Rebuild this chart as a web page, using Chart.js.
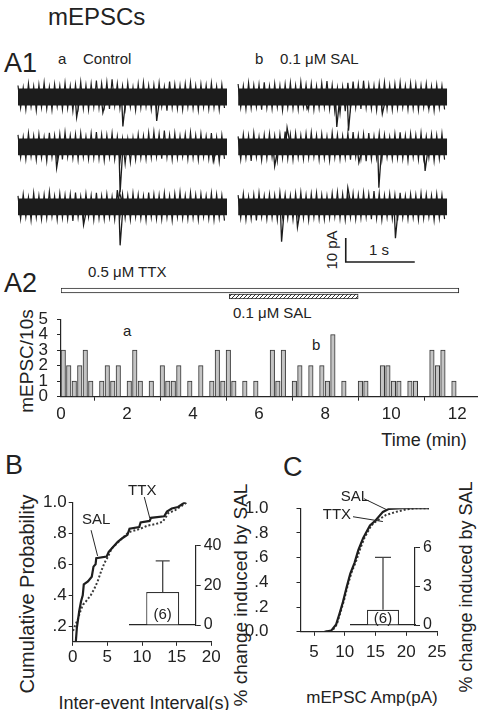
<!DOCTYPE html>
<html>
<head>
<meta charset="utf-8">
<script src="https://cdn.jsdelivr.net/npm/chart.js@4.4.0/dist/chart.umd.min.js"></script>
<style>
  body { margin: 0; background: #fff; width: 481px; height: 710px; position: relative; overflow: hidden;
         font-family: 'Liberation Sans', Arial, sans-serif; color: #222; }
  canvas { position: absolute; }
  .t { position: absolute; white-space: nowrap; line-height: 1; }
  .l { transform: translateY(-50%); }
  .c { transform: translate(-50%, -50%); }
  .r { transform: translate(-50%, -50%) rotate(-90deg); }
</style>
</head>
<body>
<div class="t l" style="left:48px;top:17px;font-size:24px">mEPSCs</div>
<div class="t l" style="left:4px;top:63px;font-size:27px">A1</div>
<div class="t l" style="left:58px;top:58px;font-size:15px">a</div>
<div class="t l" style="left:83px;top:58px;font-size:15px">Control</div>
<div class="t l" style="left:255px;top:58px;font-size:15px">b</div>
<div class="t l" style="left:280px;top:58px;font-size:15px">0.1 &mu;M SAL</div>
<div class="t r" style="left:331px;top:250px;font-size:15px">10 pA</div>
<div class="t l" style="left:369px;top:249px;font-size:15px">1 s</div>

<div class="t l" style="left:4px;top:283px;font-size:27px">A2</div>
<div class="t l" style="left:88px;top:271px;font-size:15px">0.5 &mu;M TTX</div>
<div class="t l" style="left:233px;top:312px;font-size:15px">0.1 &mu;M SAL</div>
<div class="t l" style="left:123px;top:330px;font-size:15px">a</div>
<div class="t l" style="left:312px;top:344px;font-size:15px">b</div>
<div class="t r" style="left:26px;top:361px;font-size:19px">mEPSC/10s</div>
<div class="t c" style="left:424px;top:440px;font-size:18px">Time (min)</div>

<div class="t l" style="left:5px;top:465px;font-size:27px">B</div>
<div class="t l" style="left:283px;top:467px;font-size:27px">C</div>
<div class="t r" style="left:27px;top:594px;font-size:20px">Cumulative Probability</div>
<div class="t c" style="left:144px;top:703px;font-size:18px">Inter-event Interval(s)</div>
<div class="t c" style="left:372px;top:697px;font-size:17px">mEPSC Amp(pA)</div>
<div class="t r" style="left:240px;top:595px;font-size:19px">% change induced by SAL</div>
<div class="t r" style="left:466px;top:587px;font-size:18px">% change induced by SAL</div>

<canvas id="a1" width="481" height="200" style="left:0;top:70px;width:481px;height:200px"></canvas>
<canvas id="drug" width="481" height="22" style="left:0;top:282px;width:481px;height:22px"></canvas>
<canvas id="a2" width="481" height="130" style="left:0;top:300px;width:481px;height:130px"></canvas>
<canvas id="cb" width="240" height="200" style="left:0;top:470px;width:240px;height:200px"></canvas>
<canvas id="cc" width="241" height="200" style="left:240px;top:470px;width:241px;height:200px"></canvas>
<canvas id="ib" width="105" height="105" style="left:120px;top:533px;width:105px;height:105px"></canvas>
<canvas id="ic" width="100" height="103" style="left:341px;top:535px;width:100px;height:103px"></canvas>

<script>
// ---------- A1 traces (pA around each row baseline), ~3 s each ----------
const traceDur = 3.03;
const r1L_hi = [4.8,3.9,5.6,4.4,5.1,6.0,4.2,5.3,4.7,5.9,4.5,5.2,6.3,4.9,5.5,6.8,5.7,6.2,7.4,5.6,4.6,5.8,4.1,5.4,6.1,4.8,5.0,5.9,4.3,6.4,5.2,4.7,5.5,6.0,4.6,5.3,4.9,5.8,4.4,5.2];
const r1L_lo = [-4.5,-5.2,-4.0,-5.6,-4.3,-4.9,-5.4,-3.9,-5.1,-4.6,-5.8,-4.2,-4.8,-5.3,-4.1,-4.4,-3.8,-5.0,-3.6,-4.7,-4.9,-4.2,-5.5,-4.4,-3.9,-5.1,-4.6,-4.0,-5.7,-4.3,-4.8,-5.2,-4.1,-4.7,-5.4,-4.2,-4.9,-4.4,-5.3,-4.6];
const r2L_hi = [5.0,4.2,5.7,4.6,5.3,4.1,5.9,4.8,5.4,6.1,4.7,5.2,5.8,4.4,5.6,6.2,5.1,4.9,5.7,4.3,3.5,3.4,3.9,5.2,4.6,5.9,6.3,5.5,6.8,5.0,5.7,4.6,5.3,6.0,4.8,5.4,4.5,5.8,4.1,4.9];
const r2L_lo = [-4.4,-5.1,-4.0,-5.4,-4.6,-5.9,-4.3,-4.9,-5.2,-4.1,-4.7,-5.3,-4.2,-5.0,-4.5,-4.8,-5.6,-4.3,-5.1,-6.2,-7.0,-6.4,-5.3,-4.6,-5.0,-4.4,-4.1,-4.9,-4.3,-5.2,-4.6,-4.0,-5.0,-4.5,-5.3,-4.2,-4.8,-5.4,-6.1,-5.0];
const r3L_hi = [4.6,5.3,4.1,5.8,4.7,5.1,6.4,4.5,5.6,4.9,5.2,6.0,4.4,5.5,4.8,5.9,4.6,5.3,4.2,7.0,5.4,4.8,5.7,5.1,4.5,6.0,5.2,4.9,5.8,4.6,5.5,6.2,4.7,5.9,5.0,5.4,4.6,5.7,5.1,4.8];
const r3L_lo = [-4.9,-4.2,-5.5,-4.4,-5.1,-4.6,-4.0,-5.3,-4.5,-5.0,-5.8,-4.3,-4.9,-4.1,-5.4,-4.7,-5.0,-4.4,-5.2,-4.0,-4.6,-5.3,-4.2,-4.8,-5.5,-4.3,-4.9,-5.1,-4.4,-5.6,-4.2,-4.7,-5.0,-4.5,-5.3,-4.1,-4.8,-5.4,-4.6,-5.7];
const r1R_hi = [5.4,4.6,5.9,4.9,5.2,6.1,4.5,5.6,4.8,5.3,5.9,4.7,6.3,5.1,5.5,4.6,5.8,6.6,5.0,3.8,4.2,5.9,6.4,5.3,6.8,5.1,4.7,5.6,6.1,4.9,5.4,6.0,4.6,5.7,5.2,4.8,5.5,4.4,5.1,4.7];
const r1R_lo = [-4.3,-5.0,-4.6,-4.1,-5.3,-4.5,-4.9,-4.2,-5.6,-4.4,-4.8,-5.1,-4.0,-4.7,-5.2,-4.5,-4.1,-4.9,-6.0,-6.8,-5.9,-4.6,-4.3,-5.0,-4.4,-4.8,-5.5,-4.2,-4.9,-5.3,-4.6,-4.3,-5.1,-4.7,-5.4,-4.2,-4.9,-5.6,-4.5,-5.2];
const r2R_hi = [4.4,5.2,4.7,5.8,4.2,5.0,5.6,4.6,5.3,6.4,5.1,5.7,4.8,5.5,6.0,4.9,5.4,4.3,5.9,5.1,4.6,5.7,6.2,4.9,5.3,5.8,4.5,5.6,5.0,4.2,5.4,6.1,4.7,5.5,4.9,5.8,4.4,5.2,4.8,5.5];
const r2R_lo = [-5.2,-4.6,-5.8,-4.3,-5.5,-4.8,-4.2,-5.7,-4.6,-4.9,-5.3,-4.4,-5.0,-4.5,-4.1,-5.2,-4.7,-5.6,-4.3,-5.0,-4.6,-5.3,-4.1,-4.8,-5.9,-5.1,-4.7,-5.4,-4.2,-5.0,-4.6,-4.9,-5.7,-4.3,-5.2,-4.8,-4.5,-5.8,-4.9,-5.3];
const r3R_hi = [4.9,5.5,4.3,5.1,5.8,4.6,5.3,4.8,6.0,5.2,4.7,5.6,6.1,4.9,5.4,5.8,5.0,4.6,5.7,6.2,5.3,4.9,5.6,5.1,6.0,5.4,6.6,5.7,4.8,5.5,5.0,5.9,4.6,5.3,4.9,5.6,5.2,4.7,5.4,5.0];
const r3R_lo = [-4.6,-5.3,-4.9,-5.6,-4.2,-5.0,-4.5,-5.4,-4.1,-4.8,-5.2,-4.4,-4.7,-5.5,-4.3,-4.9,-5.1,-4.6,-4.0,-4.8,-5.3,-4.4,-5.0,-4.6,-4.2,-5.1,-4.7,-5.4,-4.3,-4.9,-5.6,-4.5,-5.0,-4.4,-5.3,-4.8,-4.2,-5.5,-4.7,-5.1];
// events: [time (s), peak (pA)]
const r1L_spk = [[0.85,-8.5],[1.23,-6.5],[1.52,-12.3],[2.01,-10]];
const r2L_spk = [[0.56,-8.8],[1.48,-19],[2.83,-6]];
const r3L_spk = [[0.95,-7.5],[1.47,6],[1.48,-16]];
const r1R_spk = [[1.0,-5],[1.43,-12.5],[1.6,-14],[2.09,-7],[2.76,-4.5]];
const r2R_spk = [[0.53,-8],[0.71,8],[1.75,-6.5],[2.04,-17],[2.71,-10]];
const r3R_spk = [[0.63,-14.5],[0.86,-8.5],[1.59,8],[2.28,-13]];

// ---------- A2 histogram: events per 10 s bin, 0-12 min ----------
const binMin = 1 / 6;
const eventCounts = [3,2,1,2,3,1,0,1,2,1,2,0,1,3,1,0,1,0,2,1,1,2,0,1,0,2,0,1,3,1,3,1,0,1,0,1,0,0,3,1,
                     3,0,1,2,0,2,0,2,1,4,0,1,0,0,1,1,0,0,2,2,1,1,0,1,1,0,0,3,2,3,0,1];
const a2TicksX = [0,2,4,6,8,10,12];
const a2TicksY = [0,1,2,3,4,5];
const drugLabels = ['TTX','SAL'];
const drugSpans = [[0,12.05],[5.1,9.0]];

// ---------- B: inter-event interval cumulative ----------
const bSal = [[0.45,0.10],[0.6,0.19],[0.95,0.30],[1.2,0.36],[1.45,0.40],[1.6,0.47],[2.2,0.49],[2.75,0.52],[3.0,0.585],
              [3.3,0.60],[3.4,0.64],[4.9,0.65],[5.2,0.68],[5.6,0.70],[6.5,0.745],[7.2,0.77],[7.9,0.79],[8.2,0.83],
              [9.6,0.84],[9.8,0.87],[11.1,0.88],[11.3,0.90],[13.2,0.91],[13.6,0.94],[14.3,0.96],[15.2,0.97],[16.2,1.0]];
const bTtx = [[0.05,0.17],[0.3,0.20],[0.7,0.24],[1.2,0.31],[1.5,0.34],[1.9,0.36],[2.6,0.40],[3.1,0.44],[3.6,0.49],
              [4.1,0.555],[4.6,0.61],[5.1,0.65],[5.6,0.70],[6.5,0.74],[7.2,0.77],[7.9,0.80],[8.3,0.81],[9.8,0.83],
              [10.8,0.85],[12.0,0.86],[13.0,0.875],[13.8,0.93],[14.8,0.95],[15.5,0.97],[16.5,1.0]];
const bTicksX = [0,5,10,15,20];
const bTicksY = [0.2,0.4,0.6,0.8,1.0];
const bTickLabelsY = ['.2','.4','.6','.8','1.0'];
const bInsetMean = [16.6], bInsetErr = [15.7], bInsetTicks = [0,20,40];

// ---------- C: amplitude cumulative ----------
const cSal = [[6.7,0],[7.8,0.01],[8.6,0.06],[9.1,0.14],[9.7,0.24],[10.3,0.36],[10.9,0.47],[11.6,0.56],[12.2,0.66],
              [13.0,0.76],[14.1,0.86],[15.0,0.90],[16.2,0.97],[17.2,0.995],[19.4,1.0],[23.7,1.0]];
const cTtx = [[6.9,0],[8.0,0.01],[8.7,0.06],[9.2,0.14],[9.9,0.26],[10.5,0.38],[11.1,0.48],[11.9,0.58],[12.5,0.67],
              [13.2,0.76],[14.3,0.86],[15.1,0.895],[15.6,0.91],[16.7,0.945],[18.3,0.97],[20.0,0.99],[21.6,1.0],[23.7,1.0]];
const cTicksX = [5,10,15,20,25];
const cTicksY = [0,0.2,0.4,0.6,0.8,1.0];
const cTickLabelsY = ['0.0','.2','.4','.6','.8','1.0'];
const cInsetMean = [1.18], cInsetErr = [4.07], cInsetTicks = [0,3,6];

// ---------- shared ----------
const INK = '#262626';
Chart.defaults.font.family = "'Liberation Sans', Arial, sans-serif";
Chart.defaults.color = '#222';
Chart.defaults.animation = false;
Chart.defaults.responsive = false;
Chart.defaults.devicePixelRatio = 1;
Chart.defaults.plugins.legend.display = false;
Chart.defaults.plugins.tooltip.enabled = false;

const fixW = w => s => { s.width = w; };
const fixH = h => s => { s.height = h; };
const useTicks = vals => s => { s.ticks = vals.map(v => ({ value: v })); };

function axis(extra) {
  return Object.assign({
    grid: { drawOnChartArea: false, drawTicks: true, tickLength: 4, color: INK, lineWidth: 1 },
    border: { display: true, color: INK, width: 1.2 },
  }, extra);
}

const errorBars = {
  id: 'errorBars',
  afterDatasetsDraw(chart, args, o) {
    const { ctx } = chart, ys = chart.scales.y;
    chart.getDatasetMeta(0).data.forEach((bar, i) => {
      const top = ys.getPixelForValue(o.mean[i] + o.err[i]);
      ctx.save();
      ctx.strokeStyle = '#444'; ctx.lineWidth = 1.3;
      ctx.beginPath();
      ctx.moveTo(bar.x, bar.y); ctx.lineTo(bar.x, top);
      ctx.moveTo(bar.x - o.cap, top); ctx.lineTo(bar.x + o.cap, top);
      ctx.stroke();
      ctx.fillStyle = '#222'; ctx.font = "15px 'Liberation Sans', Arial";
      ctx.textAlign = 'center'; ctx.textBaseline = 'middle';
      ctx.fillText(o.label, bar.x, ys.getPixelForValue(0) - o.labelLift);
      ctx.restore();
    });
  }
};

const callouts = {
  id: 'callouts',
  afterDraw(chart, args, o) {
    const { ctx } = chart, xs = chart.scales.x, ys = chart.scales.y;
    o.items.forEach(c => {
      ctx.save();
      ctx.strokeStyle = INK; ctx.lineWidth = 1;
      ctx.beginPath();
      ctx.moveTo(xs.getPixelForValue(c.from[0]), ys.getPixelForValue(c.from[1]));
      ctx.lineTo(xs.getPixelForValue(c.to[0]), ys.getPixelForValue(c.to[1]));
      ctx.stroke();
      ctx.fillStyle = '#222'; ctx.font = "15px 'Liberation Sans', Arial";
      ctx.textAlign = 'center'; ctx.textBaseline = 'middle';
      ctx.fillText(c.text, xs.getPixelForValue(c.at[0]), ys.getPixelForValue(c.at[1]));
      ctx.restore();
    });
  }
};

// ---------- A1 ----------
const rowBase = [0, -20.8, -45.8];
const colStart = [0, 3.19];
const coreHalf = 3.5;   // solid centre of the noise band (style)
const traces = [
  [r1L_hi, r1L_lo, r1L_spk, 0, 0], [r2L_hi, r2L_lo, r2L_spk, 1, 0], [r3L_hi, r3L_lo, r3L_spk, 2, 0],
  [r1R_hi, r1R_lo, r1R_spk, 0, 1], [r2R_hi, r2R_lo, r2R_spk, 1, 1], [r3R_hi, r3R_lo, r3R_spk, 2, 1],
];
const a1Sets = [];
const TR = '#1c1c1c';
traces.forEach(([hi, lo, spk, row, col]) => {
  const t0 = colStart[col], b = rowBase[row], step = traceDur / hi.length;
  // solid core
  a1Sets.push({ data: [{ x: t0, y: b + coreHalf }, { x: t0 + traceDur, y: b + coreHalf }], fill: '+1',
                backgroundColor: TR, borderWidth: 0, pointRadius: 0 });
  a1Sets.push({ data: [{ x: t0, y: b - coreHalf }, { x: t0 + traceDur, y: b - coreHalf }], fill: false,
                borderWidth: 0, pointRadius: 0 });
  // noise swinging between upper and lower envelope
  const zig = [];
  hi.forEach((v, i) => {
    zig.push({ x: t0 + i * step, y: b + v }, { x: t0 + (i + 0.5) * step, y: b + lo[i] });
  });
  a1Sets.push({ data: zig, borderColor: TR, borderWidth: 1.2, pointRadius: 0, fill: false, tension: 0 });
  // events
  const pts = [];
  spk.forEach(([t, a]) => {
    const s = Math.sign(a);
    pts.push({ x: t0 + t - 0.015, y: b + 2.5 * s }, { x: t0 + t, y: b + a }, { x: t0 + t + 0.035, y: b + 2.5 * s }, { x: t0 + t + 0.04, y: null });
  });
  a1Sets.push({ data: pts, borderColor: TR, borderWidth: 1.3, pointRadius: 0, spanGaps: false, fill: false });
});
const sbT = 4.75, sbY = -68.75, sbSec = 1, sbPA = 10;
a1Sets.push({ data: [{ x: sbT, y: sbY + sbPA }, { x: sbT, y: sbY }, { x: sbT + sbSec, y: sbY }],
              borderColor: TR, borderWidth: 1.6, pointRadius: 0, fill: false });

new Chart(document.getElementById('a1'), {
  type: 'line',
  data: { datasets: a1Sets },
  options: {
    layout: { padding: 0 },
    scales: {
      x: { type: 'linear', display: false, min: -18 / 69, max: 463 / 69 },
      y: { type: 'linear', display: false, min: -72.08, max: 11.25 },
    }
  }
});

// ---------- drug application bars ----------
function hatch() {
  const c = document.createElement('canvas'); c.width = 4; c.height = 4;
  const g = c.getContext('2d');
  g.fillStyle = '#fff'; g.fillRect(0, 0, 4, 4);
  g.strokeStyle = '#333'; g.lineWidth = 1;
  g.beginPath(); g.moveTo(-1, 5); g.lineTo(5, -1); g.stroke();
  return g.createPattern(c, 'repeat');
}
new Chart(document.getElementById('drug'), {
  type: 'bar',
  data: { labels: drugLabels, datasets: [{ data: drugSpans, backgroundColor: ['#fff', hatch()],
          borderColor: INK, borderWidth: 1, borderSkipped: false, barThickness: 4.6 }] },
  options: {
    indexAxis: 'y',
    layout: { padding: { left: 61, right: 4, top: 5.5, bottom: 4.5 } },
    scales: {
      x: { type: 'linear', display: false, min: 0, max: 12.6 },
      y: { display: false },
    }
  }
});

// ---------- A2 histogram ----------
new Chart(document.getElementById('a2'), {
  type: 'bar',
  data: { datasets: [{
    data: eventCounts.map((n, i) => ({ x: i * binMin + 0.068, y: n })).filter(p => p.y > 0),
    backgroundColor: '#c4c4c4', borderColor: '#333', borderWidth: 1, barThickness: 4.5
  }] },
  options: {
    layout: { padding: { left: 0, right: 4, top: 9.3, bottom: 0 } },
    scales: {
      x: axis({ type: 'linear', min: 0, max: 12.6, offset: false, afterFit: fixH(33.3), afterBuildTicks: useTicks(a2TicksX),
                ticks: { font: { size: 17 }, padding: 3, maxRotation: 0, autoSkip: false } }),
      y: axis({ min: 0, max: 5, afterFit: fixW(61), afterBuildTicks: useTicks(a2TicksY),
                ticks: { font: { size: 17 }, padding: 9, autoSkip: false } }),
    }
  }
});

// ---------- B ----------
const pts = arr => arr.map(([x, y]) => ({ x, y }));
new Chart(document.getElementById('cb'), {
  type: 'line',
  data: { datasets: [
    { data: pts(bSal), borderColor: '#1e1e1e', borderWidth: 2.2, pointRadius: 0, tension: 0 },
    { data: pts(bTtx), borderColor: '#3a3a3a', borderWidth: 2, borderDash: [2, 2], pointRadius: 0, tension: 0 },
  ] },
  options: {
    layout: { padding: { left: 0, right: 28.7, top: 32.3, bottom: 0 } },
    scales: {
      x: axis({ type: 'linear', min: 0, max: 20, afterFit: fixH(28.2), afterBuildTicks: useTicks(bTicksX),
                ticks: { font: { size: 17 }, padding: 1, maxRotation: 0, autoSkip: false } }),
      y: axis({ min: 0.1, max: 1.0, afterFit: fixW(72.7), afterBuildTicks: useTicks(bTicksY),
                ticks: { font: { size: 17 }, padding: 2, autoSkip: false, callback: (v, i) => bTickLabelsY[i] } }),
    },
    plugins: { callouts: { items: [
      { text: 'SAL', at: [3.38, 0.885], from: [2.65, 0.82], to: [3.59, 0.654] },
      { text: 'TTX', at: [10.04, 1.073], from: [10.33, 1.034], to: [11.13, 0.897] },
    ] } }
  },
  plugins: [callouts]
});

// ---------- C ----------
new Chart(document.getElementById('cc'), {
  type: 'line',
  data: { datasets: [
    { data: pts(cSal), borderColor: '#1e1e1e', borderWidth: 2.2, pointRadius: 0, tension: 0 },
    { data: pts(cTtx), borderColor: '#3a3a3a', borderWidth: 2, borderDash: [2, 2], pointRadius: 0, tension: 0 },
  ] },
  options: {
    layout: { padding: { left: 0, right: 44, top: 32.3, bottom: 0 } },
    scales: {
      x: axis({ type: 'linear', min: 2.8, max: 25, afterFit: fixH(28.3), afterBuildTicks: useTicks(cTicksX),
                ticks: { font: { size: 17 }, padding: 6, maxRotation: 0, autoSkip: false } }),
      y: axis({ min: 0, max: 1.0, afterFit: fixW(60.5), afterBuildTicks: useTicks(cTicksY),
                ticks: { font: { size: 17 }, padding: 28, autoSkip: false, callback: (v, i) => cTickLabelsY[i] } }),
    },
    plugins: { callouts: { items: [
      { text: 'SAL', at: [11.66, 1.089], from: [13.12, 1.077], to: [16.8, 0.988] },
      { text: 'TTX', at: [8.73, 0.946], from: [11.34, 0.931], to: [16.2, 0.892] },
    ] } }
  },
  plugins: [callouts]
});

// ---------- insets ----------
function inset(id, mean, err, ticks, padLeft, padTop, yWidth, cap, lift) {
  new Chart(document.getElementById(id), {
    type: 'bar',
    data: { labels: ['SAL'], datasets: [{ data: mean, backgroundColor: '#fff', borderColor: '#333', borderWidth: 1.2,
            barPercentage: 0.5, categoryPercentage: 1 }] },
    options: {
      layout: { padding: { left: padLeft, top: padTop, right: 0, bottom: 0 } },
      scales: {
        x: { grid: { display: false }, ticks: { display: false }, border: { display: true, color: INK, width: 1.2 }, afterFit: fixH(13) },
        y: axis({ position: 'right', min: ticks[0], max: ticks[ticks.length - 1], afterFit: fixW(yWidth), afterBuildTicks: useTicks(ticks),
                  grid: { drawOnChartArea: false, drawTicks: true, tickLength: 5, color: INK },
                  ticks: { font: { size: 16 }, padding: 3, autoSkip: false } }),
      },
      plugins: { errorBars: { mean, err, cap, label: '(6)', labelLift: lift } }
    },
    plugins: [errorBars]
  });
}
inset('ib', bInsetMean, bInsetErr, bInsetTicks, 9.7, 10.3, 29.3, 7, 10);
inset('ic', cInsetMean, cInsetErr, cInsetTicks, 10, 10, 26, 8, 6);
</script>
</body>
</html>
